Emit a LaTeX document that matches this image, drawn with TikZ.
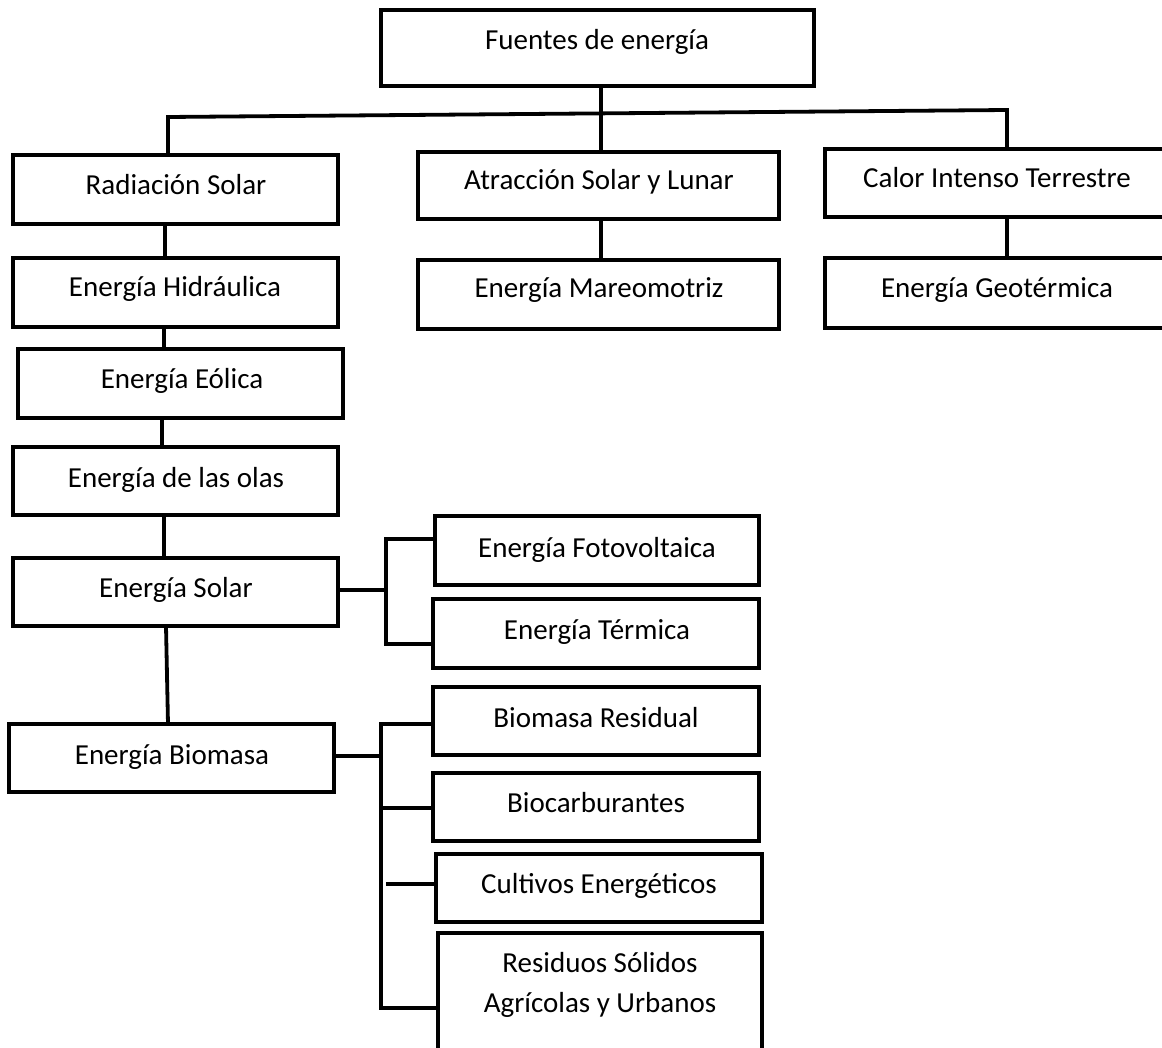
\documentclass[tikz,border=0pt]{standalone}
\usepackage{fontspec}
\setmainfont{Carlito}
\newcommand\tbox[8]{%
  \node[box, minimum width={(#4-#2)*1pt}, minimum height={(#5-#3)*1pt}] (#1) at ({(#2+#4)/2},{(#3+#5)/2}) {};
  \node[lbl] (#1-t) at (#6,#7) {#8};
}
\begin{document}
\begin{tikzpicture}[x=1pt,y=-1pt, line width=3.8pt,
  box/.style={draw, rectangle, inner sep=0pt, outer sep=0pt, line width=3.8pt},
  lbl/.style={anchor=base, inner sep=0pt, outer sep=0pt, font=\fontsize{29}{35}\selectfont},
  conn/.style={draw, line width=3.8pt}]
\useasboundingbox (0,0) rectangle (1162,1048);
\clip (0,0) rectangle (1162,1048);
\fill[white] (0,0) rectangle (1162,1048);
% boxes
\tbox{fuentes}{381}{10}{814}{86}{597}{50}{Fuentes de energía}
\tbox{rad}{13}{155}{338}{224}{176}{195}{Radiación Solar}
\tbox{atr}{418}{152}{779}{219}{599}{190}{Atracción Solar y Lunar}
\tbox{cal}{825}{149}{1200}{217}{997}{188}{Calor Intenso Terrestre}
\tbox{hid}{13}{258}{338}{327}{175}{297}{Energía Hidráulica}
\tbox{mar}{418}{260}{779}{329}{599}{298}{Energía Mareomotriz}
\tbox{geo}{825}{258}{1200}{328}{997}{298}{Energía Geotérmica}
\tbox{eol}{18}{349}{343}{418}{182}{389}{Energía Eólica}
\tbox{olas}{13}{447}{338}{515}{176}{487}{Energía de las olas}
\tbox{sol}{13}{558}{338}{626}{176}{597}{Energía Solar}
\tbox{bio}{9}{724}{334}{792}{172}{764}{Energía Biomasa}
\tbox{foto}{435}{516}{759}{585}{597}{557}{Energía Fotovoltaica}
\tbox{term}{433}{599}{759}{668}{597}{639}{Energía Térmica}
\tbox{bres}{433}{687}{759}{755}{596}{727}{Biomasa Residual}
\tbox{bcar}{433}{773}{759}{841}{596}{812}{Biocarburantes}
\tbox{cult}{436}{854}{762}{922}{599}{893}{Cultivos Energéticos}
\tbox{resid}{438}{933}{762}{1090}{600}{972}{Residuos Sólidos}
\node[lbl] (resid-t2) at (600,1012) {Agrícolas y Urbanos};
% junction coordinates
\coordinate (hubL) at (168,117);
\coordinate (hubR) at (1007,110);
\coordinate (solJ) at (386,590);
\coordinate (solT) at (386,539);
\coordinate (solB) at (386,644);
\coordinate (bioJ) at (381,756);
\coordinate (bioT) at (381,724);
\coordinate (bioB) at (381,1008);
% connectors
\draw[conn] (fuentes.south -| 601,0) -- (atr.north -| 601,0);
\draw[conn] (rad.north -| hubL) -- (hubL) -- (hubR) -- (cal.north -| hubR);
\draw[conn] (atr.south -| 601,0) -- (mar.north -| 601,0);
\draw[conn] (cal.south -| hubR) -- (geo.north -| hubR);
\draw[conn] (rad.south -| 165,0) -- (hid.north -| 165,0);
\draw[conn] (hid.south -| 164,0) -- (eol.north -| 164,0);
\draw[conn] (eol.south -| 162,0) -- (olas.north -| 162,0);
\draw[conn] (olas.south -| 164,0) -- (sol.north -| 164,0);
\draw[conn] (sol.south -| 166,0) -- (bio.north -| 168,0);
% solar bracket
\draw[conn] (sol.east |- solJ) -- (solJ);
\draw[conn] (foto.west |- solT) -- (solT) -- (solB) -- (term.west |- solB);
% biomasa bracket
\draw[conn] (bio.east |- bioJ) -- (bioJ);
\draw[conn] (bres.west |- bioT) -- (bioT) -- (bioB) -- (resid.west |- bioB);
\draw[conn] (381,808) -- (bcar.west |- 0,808);
\draw[conn] (386,884) -- (cult.west |- 0,884);
\end{tikzpicture}
\end{document}
